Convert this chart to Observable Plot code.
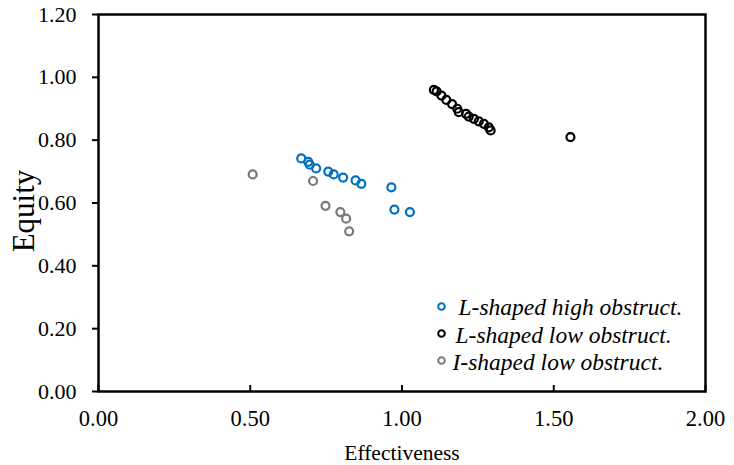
<!DOCTYPE html>
<html>
<head>
<meta charset="utf-8">
<script src="https://cdn.jsdelivr.net/npm/d3@7"></script>
<script src="https://cdn.jsdelivr.net/npm/@observablehq/plot@0.6"></script>
<style>
  html, body { margin: 0; padding: 0; background: #fff; }
  #chart svg { display: block; }
</style>
</head>
<body>
<div id="chart"></div>
<script>
const seriesNames = ["L-shaped high obstruct.", "L-shaped low obstruct.", "I-shaped low obstruct."];
const seriesColors = ["#0070C0", "#000000", "#7a7a7a"];

const highX = [0.668, 0.691, 0.696, 0.717, 0.757, 0.775, 0.806, 0.847, 0.866, 0.965, 0.975, 1.026];
const highY = [0.742, 0.731, 0.722, 0.710, 0.700, 0.691, 0.681, 0.672, 0.661, 0.650, 0.579, 0.571];

const lowLX = [1.105, 1.114, 1.130, 1.146, 1.165, 1.182, 1.187, 1.211, 1.220, 1.237, 1.253, 1.270, 1.286, 1.292, 1.555];
const lowLY = [0.960, 0.955, 0.942, 0.928, 0.915, 0.900, 0.889, 0.884, 0.875, 0.868, 0.860, 0.852, 0.841, 0.831, 0.810];

const lowIX = [0.508, 0.707, 0.748, 0.797, 0.816, 0.826];
const lowIY = [0.691, 0.670, 0.591, 0.571, 0.550, 0.510];

const xTicks = [0, 0.5, 1.0, 1.5, 2.0];
const yTicks = [0, 0.2, 0.4, 0.6, 0.8, 1.0, 1.2];

const toRows = (xs, ys, s) => xs.map((x, i) => ({x, y: ys[i], s}));
const data = [
  ...toRows(highX, highY, seriesNames[0]),
  ...toRows(lowLX, lowLY, seriesNames[1]),
  ...toRows(lowIX, lowIY, seriesNames[2])
];

const legendRows = seriesNames.map((name, i) => ({name, i}));
const legendDotDy = [292, 319, 346];
const legendTextDx = [360, 357, 354];
const legendTextDy = [293, 321, 348];

const font = "'Liberation Serif', 'Times New Roman', serif";

const chart = Plot.plot({
  width: 734,
  height: 465,
  marginLeft: 98,
  marginRight: 29,
  marginTop: 14,
  marginBottom: 74,
  style: {fontFamily: font, fontSize: "22px", color: "#000", background: "#fff"},
  x: {domain: [0, 2]},
  y: {domain: [0, 1.2]},
  color: {domain: seriesNames, range: seriesColors},
  marks: [
    Plot.axisY({ticks: yTicks, tickFormat: d3.format(".2f"), tickSize: 6, tickPadding: 16, strokeWidth: 2, label: null, fontSize: "22px"}),
    Plot.axisX({ticks: xTicks, tickFormat: d3.format(".2f"), tickSize: 0, tickPadding: 19, label: null, fontSize: "22.5px"}),
    Plot.ruleX(xTicks, {insetTop: 371, stroke: "black", strokeWidth: 2}),
    Plot.frame({stroke: "black", strokeWidth: 2.5}),
    Plot.dot(data, {x: "x", y: "y", stroke: "s", r: 4, strokeWidth: 2.2, fill: "none"}),
    Plot.text(["Effectiveness"], {frameAnchor: "bottom", dy: 68, fontSize: "21.5px", fill: "black"}),
    Plot.text(["Equity"], {frameAnchor: "left", dx: -74, dy: 8, rotate: -90, textAnchor: "middle", lineAnchor: "middle", fontSize: "31px", fill: "black"}),
    ...legendRows.map(d => Plot.dot([d], {frameAnchor: "top-left", dx: 343, dy: legendDotDy[d.i], r: 3.3, stroke: seriesColors[d.i], strokeWidth: 2, fill: "none"})),
    ...legendRows.map(d => Plot.text([d], {text: "name", frameAnchor: "top-left", dx: legendTextDx[d.i], dy: legendTextDy[d.i], textAnchor: "start", lineAnchor: "middle", fontSize: "23.5px", fontStyle: "italic", fill: "black"}))
  ]
});
document.getElementById("chart").appendChild(chart);
</script>
</body>
</html>
